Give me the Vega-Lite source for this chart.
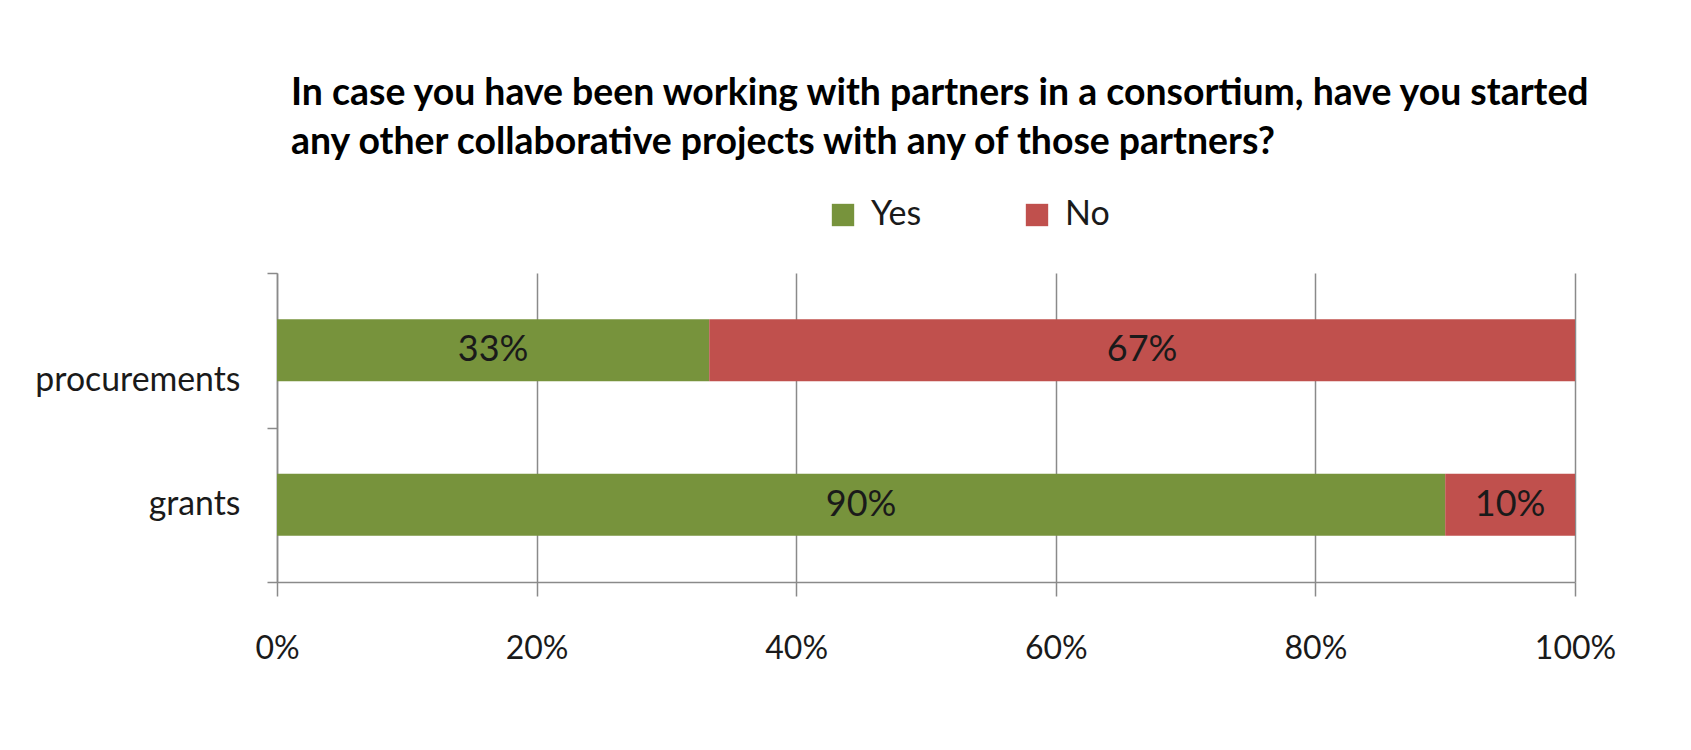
{
  "$schema": "https://vega.github.io/schema/vega-lite/v6.json",
  "width": 1298,
  "height": 309,
  "autosize": {"type": "none"},
  "padding": {"left": 277, "top": 273, "right": 116, "bottom": 168},
  "background": "white",
  "config": {
    "view": {"stroke": null},
    "font": "Lato",
    "axis": {"labelFont": "Lato", "labelColor": "#1a1a1a", "domainColor": "#8a8a8a", "domainWidth": 1.5, "tickColor": "#8a8a8a", "tickWidth": 1.5, "gridColor": "#8a8a8a", "gridWidth": 1.5}
  },
  "title": {
    "text": ["In case you have been working with partners in a consortium, have you started", "any other collaborative projects with any of those partners?"],
    "anchor": "start",
    "frame": "group",
    "dx": 14,
    "offset": 37,
    "fontSize": 37.4,
    "fontWeight": "bold",
    "font": "Lato",
    "color": "#000000",
    "lineHeight": 49
  },
  "data": {
    "values": [
      {"type": "procurements", "answer": "Yes", "share": 0.333},
      {"type": "procurements", "answer": "No", "share": 0.667},
      {"type": "grants", "answer": "Yes", "share": 0.90},
      {"type": "grants", "answer": "No", "share": 0.10}
    ]
  },
  "encoding": {
    "y": {
      "field": "type",
      "type": "nominal",
      "sort": ["procurements", "grants"],
      "title": null,
      "scale": {"paddingInner": 0, "paddingOuter": 0},
      "axis": {
        "grid": false,
        "tickBand": "extent",
        "tickSize": 10,
        "labelPadding": 27,
        "labelFontSize": 33.8,
        "labelLimit": 500,
        "labelOffset": {"condition": {"test": "datum.value === 'procurements'", "value": 30}, "value": 0}
      }
    },
    "x": {
      "field": "share",
      "type": "quantitative",
      "stack": "zero",
      "title": null,
      "scale": {"domain": [0, 1], "nice": false},
      "axis": {"format": ".0%", "values": [0, 0.2, 0.4, 0.6, 0.8, 1], "grid": true, "tickSize": 14, "labelPadding": 37, "labelFontSize": 32, "labelFlush": false}
    },
    "order": {"field": "answer", "sort": "descending"}
  },
  "layer": [
    {
      "mark": {"type": "bar", "height": {"band": 0.4}},
      "encoding": {
        "color": {
          "field": "answer",
          "type": "nominal",
          "scale": {"domain": ["Yes", "No"], "range": ["#77933C", "#C0504D"]},
          "legend": {
            "orient": "none",
            "legendX": 549,
            "legendY": -75,
            "direction": "horizontal",
            "title": null,
            "symbolType": "square",
            "symbolSize": 500,
            "symbolStrokeWidth": 0,
            "labelFontSize": 34,
            "labelFont": "Lato",
            "labelColor": "#1a1a1a",
            "labelOffset": 11,
            "columnPadding": 98,
            "padding": 0
          }
        }
      }
    },
    {
      "mark": {"type": "text", "fontSize": 36, "color": "#1a1a1a", "font": "Lato"},
      "encoding": {
        "x": {
          "field": "share",
          "type": "quantitative",
          "stack": "zero",
          "bandPosition": 0.5,
          "title": null,
          "scale": {"domain": [0, 1], "nice": false},
          "axis": {"format": ".0%", "values": [0, 0.2, 0.4, 0.6, 0.8, 1], "grid": true, "tickSize": 14, "labelPadding": 37, "labelFontSize": 32, "labelFlush": false}
        },
        "detail": {"field": "answer"},
        "text": {"field": "share", "type": "quantitative", "format": ".0%"}
      }
    }
  ]
}
